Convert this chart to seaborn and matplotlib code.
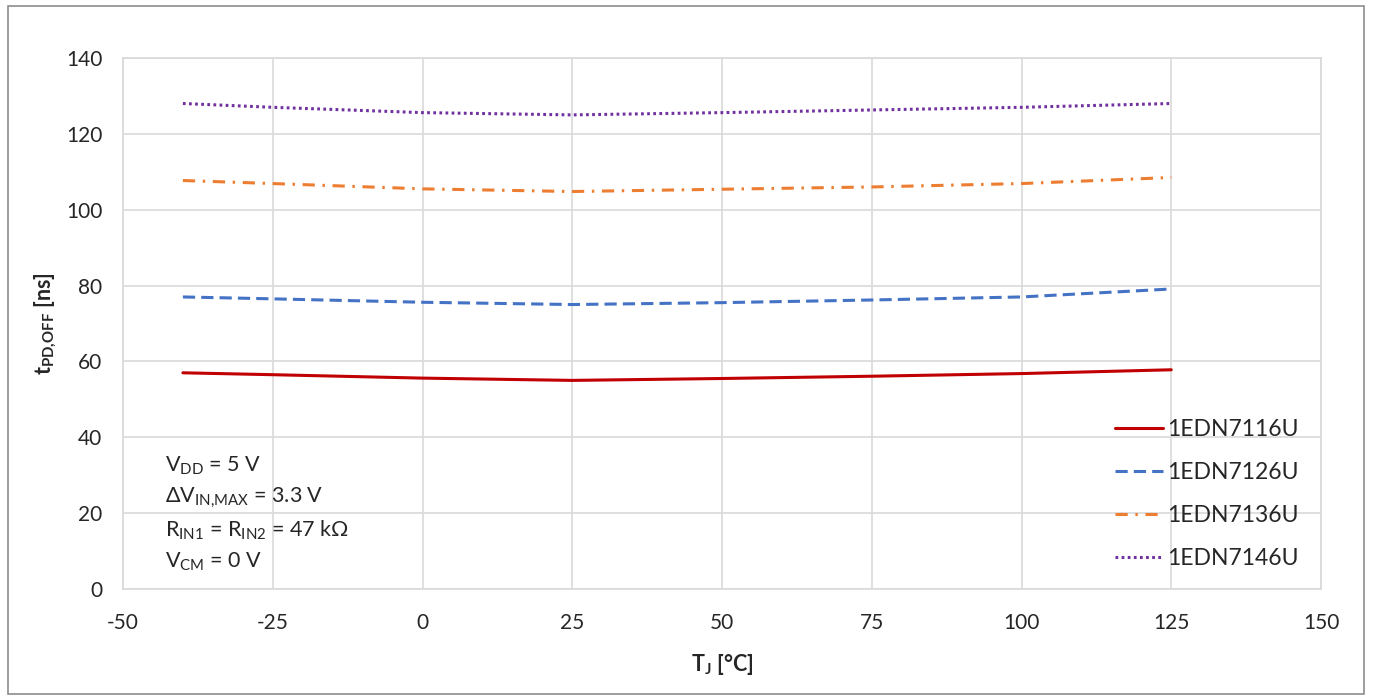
import matplotlib
matplotlib.use("Agg")

import matplotlib.pyplot as plt
import pandas as pd
import seaborn as sns
from matplotlib.patches import Rectangle

# Junction temperature points and read-off propagation delays (ns)
temps = [-40, -25, 0, 25, 50, 75, 100, 125]
t_7116 = [57.0, 56.5, 55.6, 55.0, 55.5, 56.1, 56.8, 57.8]
t_7126 = [77.0, 76.5, 75.6, 75.0, 75.5, 76.2, 77.0, 79.1]
t_7136 = [107.7, 106.9, 105.5, 104.8, 105.4, 106.0, 106.9, 108.5]
t_7146 = [128.0, 127.0, 125.6, 125.0, 125.6, 126.3, 127.0, 128.0]

names = ["1EDN7116U", "1EDN7126U", "1EDN7136U", "1EDN7146U"]
colors = ["#c00000", "#4472c4", "#ed7d31", "#7030a0"]
dashes = [(None, None), (4, 2), (4, 2.5, 0.8, 2.5), (0.9, 1.1)]

x_ticks = [-50, -25, 0, 25, 50, 75, 100, 125, 150]
y_ticks = [0, 20, 40, 60, 80, 100, 120, 140]

sns.set_style("white")
plt.rcParams["font.family"] = ["Lato", "DejaVu Sans"]
plt.rcParams["mathtext.fontset"] = "custom"
plt.rcParams["mathtext.rm"] = "Lato"
plt.rcParams["mathtext.bf"] = "Lato:bold"
plt.rcParams["axes.unicode_minus"] = False

df = pd.DataFrame({"T": temps, names[0]: t_7116, names[1]: t_7126,
                   names[2]: t_7136, names[3]: t_7146})
df = df.melt(id_vars="T", var_name="part", value_name="t")

fig = plt.figure(figsize=(13.73, 7.0), dpi=100)
ax = fig.add_axes([123 / 1373, 111 / 700, 1198 / 1373, 531 / 700])

for name, col, d in zip(names, colors, dashes):
    sub = df[df["part"] == name]
    sns.lineplot(data=sub, x="T", y="t", ax=ax, color=col, linewidth=2.2,
                 label=name)
    line = ax.get_lines()[-1]
    if d[0] is not None:
        line.set_dashes(d)

ax.set_xlim(-50, 150)
ax.set_ylim(0, 140)
ax.set_xticks(x_ticks)
ax.set_yticks(y_ticks)
ax.tick_params(length=0, labelsize=15)
ax.tick_params(axis="x", pad=17)
ax.tick_params(axis="y", pad=15)
ax.grid(True, color="#d9d9d9", linewidth=1.2)
for s in ax.spines.values():
    s.set_color("#d9d9d9")
    s.set_linewidth(1.2)

ax.set_xlabel(r"T$_{\mathbf{J}}$ [°C]", fontsize=15.5, fontweight="bold", labelpad=14)
ax.set_ylabel(r"t$_{\mathbf{PD{,}OFF}}$ [ns]", fontsize=15.5, fontweight="bold", labelpad=5)

notes = [r"V$_{\mathregular{DD}}$ = 5 V",
         r"ΔV$_{\mathregular{IN{,}MAX}}$ = 3.3 V",
         r"R$_{\mathregular{IN1}}$ = R$_{\mathregular{IN2}}$ = 47 kΩ",
         r"V$_{\mathregular{CM}}$ = 0 V"]
for i, n in enumerate(notes):
    fig.text(165 / 1373, 1 - (466 + i * 32) / 700, n, fontsize=15.5,
             va="center", ha="left")

ax.legend(loc="upper left", bbox_to_anchor=(1110 / 1373, 1 - 414 / 700),
          bbox_transform=fig.transFigure, frameon=False, fontsize=16.5,
          handlelength=2.1, handletextpad=0.2, labelspacing=0.97,
          borderpad=0.2, borderaxespad=0)

# outer chart frame
fig.patches.append(Rectangle((8 / 1373, 6 / 700), 1356 / 1373, 688 / 700,
                             transform=fig.transFigure, fill=False,
                             edgecolor="#8c8c8c", linewidth=1.2))

fig.savefig("out.png", dpi=100)
